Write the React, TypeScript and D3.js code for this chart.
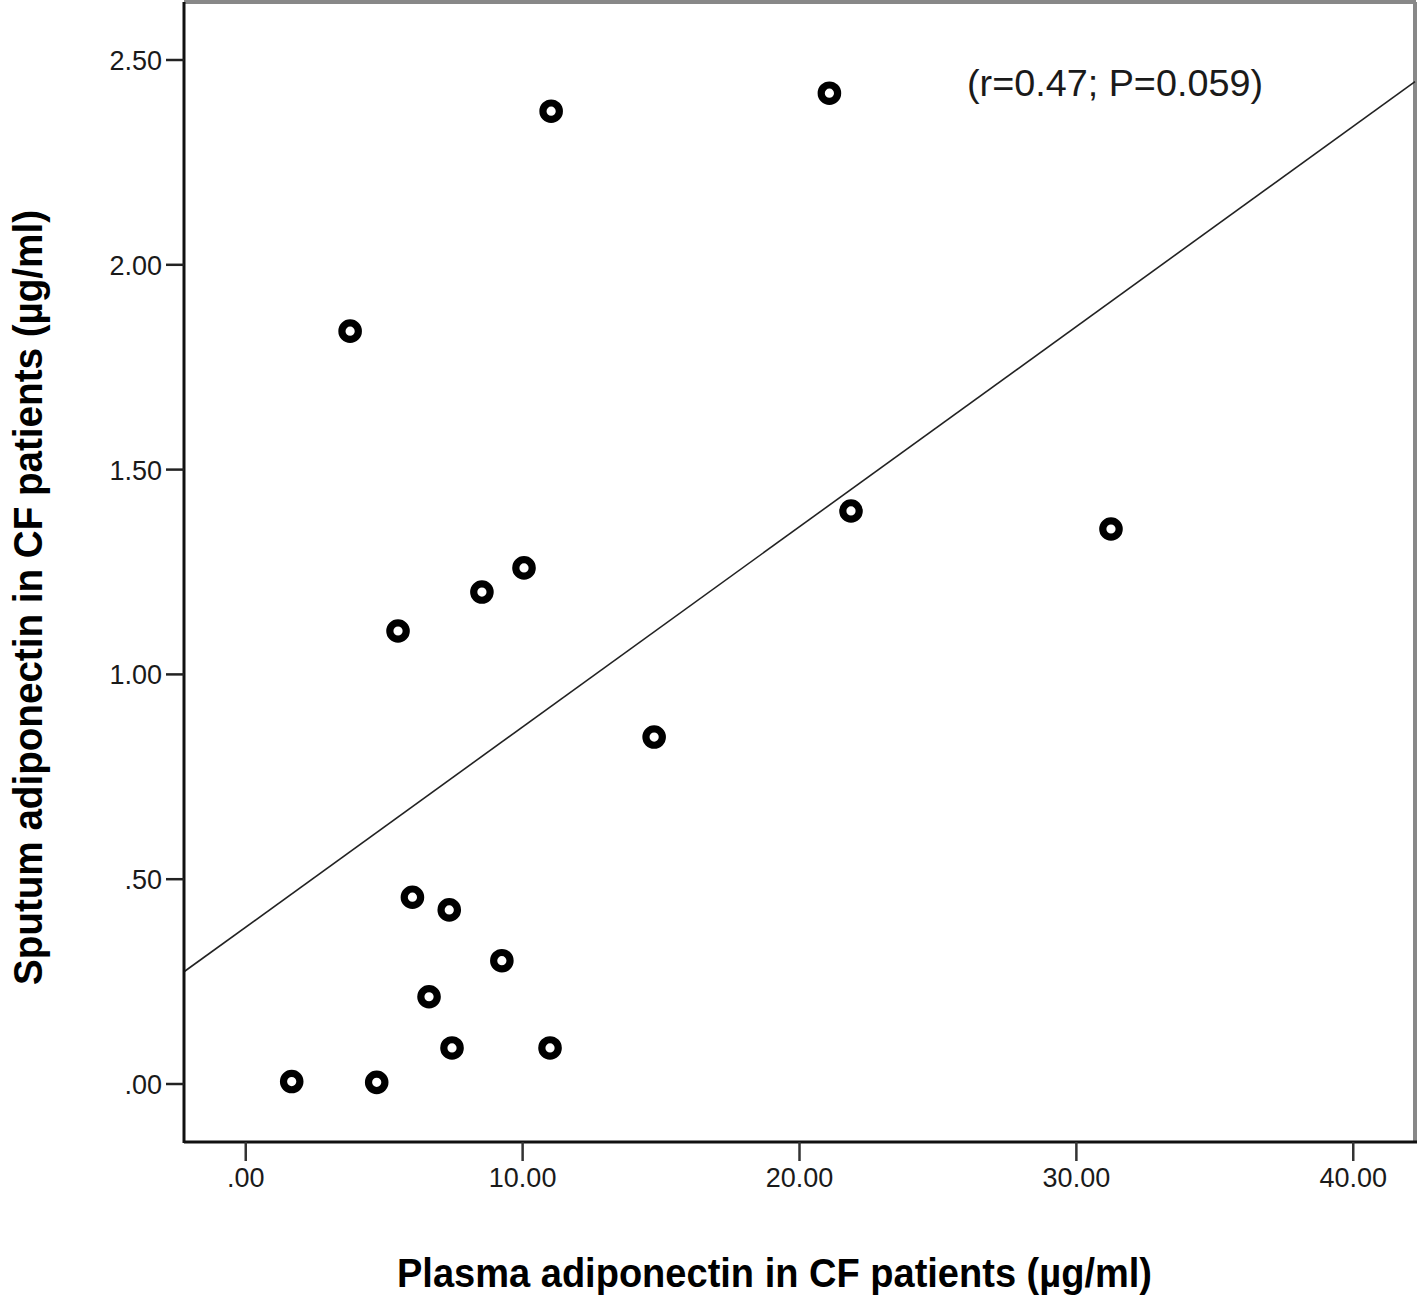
import * as d3 from 'd3';

// plasma adiponectin (x) and sputum adiponectin (y), µg/ml
const plasma = [11.03, 21.08, 3.77, 21.86, 31.25, 10.05, 8.53, 5.5, 14.75, 6.02, 7.35, 9.25, 6.62, 7.45, 10.99, 1.66, 4.73];
const sputum = [2.375, 2.419, 1.838, 1.399, 1.355, 1.26, 1.201, 1.106, 0.847, 0.456, 0.425, 0.301, 0.213, 0.088, 0.088, 0.006, 0.004];

const xTicks = [0, 10, 20, 30, 40];
const yTicks = [0, 0.5, 1, 1.5, 2, 2.5];

// fit line
const fitIntercept = 0.383;
const fitSlope = 0.04888;

const annotation = '(r=0.47; P=0.059)';
const xTitle = 'Plasma adiponectin in CF patients (µg/ml)';
const yTitle = 'Sputum adiponectin in CF patients (µg/ml)';

const width = 1418,
	height = 1310;
const plot = { left: 184, right: 1415, top: 2, bottom: 1142 };

const fmt = (v: number) => {
	const s = v.toFixed(2);
	return s.startsWith('0') ? s.slice(1) : s;
};

export default function App() {
	const xScale = d3.scaleLinear().domain([-2.23, 42.23]).range([plot.left, plot.right]);
	const yScale = d3.scaleLinear().domain([-0.1416, 2.6416]).range([plot.bottom, plot.top]);

	const [x0, x1] = xScale.domain();
	const fit = d3
		.line<number>()
		.x((d) => xScale(d))
		.y((d) => yScale(fitIntercept + fitSlope * d));

	const points = plasma.map((x, i) => ({ x, y: sputum[i] }));
	const tickFont = '"Liberation Sans", Arial, sans-serif';
	const titleFont = '"Liberation Sans Narrow", "Liberation Sans", Arial, sans-serif';

	return (
		<svg
			width={width}
			height={height}
			viewBox={`0 0 ${width} ${height}`}
			style={{ position: 'absolute', left: 0, top: 0, background: 'white' }}
		>
			<rect x={0} y={0} width={width} height={height} fill="white" />

			{/* frame: top and right grey, left and bottom black */}
			<line x1={plot.left} x2={plot.right + 1} y1={plot.top} y2={plot.top} stroke="#888" strokeWidth={4} />
			<line x1={plot.right} x2={plot.right} y1={plot.top} y2={plot.bottom} stroke="#888" strokeWidth={4} />

			{/* fit line */}
			<path d={fit([x0, x1])!} stroke="#222" strokeWidth={1.6} fill="none" />

			{points.map((d, i) => (
				<circle
					key={i}
					cx={xScale(d.x)}
					cy={yScale(d.y)}
					r={8.2}
					fill="white"
					stroke="black"
					strokeWidth={7.2}
				/>
			))}

			<line x1={plot.left} x2={plot.left} y1={plot.top} y2={plot.bottom + 1} stroke="#111" strokeWidth={3} />
			<line x1={plot.left} x2={plot.right + 2} y1={plot.bottom} y2={plot.bottom} stroke="#111" strokeWidth={3} />

			{/* y axis */}
			{yTicks.map((t) => (
				<g key={t} transform={`translate(0, ${yScale(t)})`}>
					<line x1={plot.left - 18} x2={plot.left} stroke="#222" strokeWidth={2.5} />
					<text
						x={162}
						y={10}
						textAnchor="end"
						fontFamily={tickFont}
						fontSize={27}
						fill="#1a1a1a"
					>
						{fmt(t)}
					</text>
				</g>
			))}

			{/* x axis */}
			{xTicks.map((t) => (
				<g key={t} transform={`translate(${xScale(t)}, 0)`}>
					<line y1={plot.bottom} y2={plot.bottom + 19} stroke="#333" strokeWidth={2.5} />
					<text
						y={1187}
						textAnchor="middle"
						fontFamily={tickFont}
						fontSize={27}
						fill="#1a1a1a"
					>
						{fmt(t)}
					</text>
				</g>
			))}

			<text
				x={967}
				y={96}
				fontFamily={tickFont}
				fontSize={36}
				fill="#1a1a1a"
				textLength={296}
				lengthAdjust="spacingAndGlyphs"
			>
				{annotation}
			</text>

			<text
				x={397}
				y={1287}
				fontFamily={titleFont}
				fontWeight="bold"
				fontSize={40}
				fill="black"
				textLength={755}
				lengthAdjust="spacingAndGlyphs"
			>
				{xTitle}
			</text>

			<text
				transform={`translate(42, 985) rotate(-90)`}
				fontFamily={titleFont}
				fontWeight="bold"
				fontSize={40}
				fill="black"
				textLength={775}
				lengthAdjust="spacingAndGlyphs"
			>
				{yTitle}
			</text>
		</svg>
	);
}
